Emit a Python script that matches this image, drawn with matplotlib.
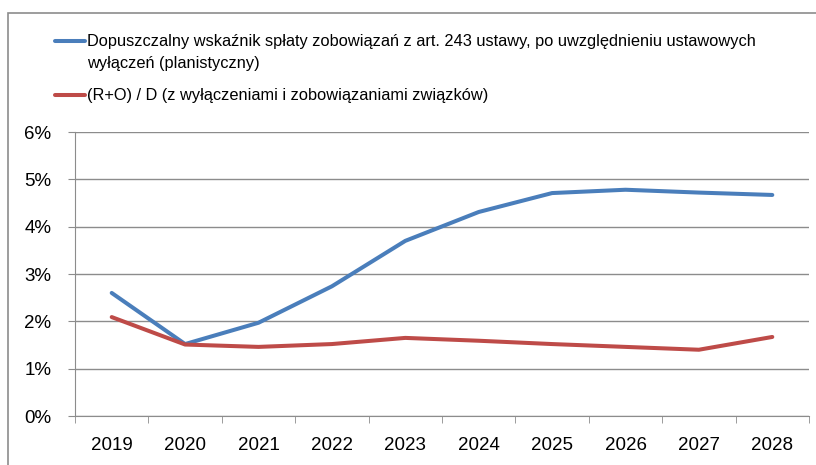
import numpy as np
import matplotlib.pyplot as plt
from matplotlib.lines import Line2D
from matplotlib.patches import Rectangle
from matplotlib.ticker import FixedLocator, FuncFormatter

years = ['2019', '2020', '2021', '2022', '2023', '2024', '2025', '2026', '2027', '2028']
wskaznik_dop = [2.60, 1.52, 1.97, 2.74, 3.70, 4.31, 4.71, 4.78, 4.72, 4.67]
ro_d = [2.09, 1.51, 1.46, 1.52, 1.65, 1.59, 1.52, 1.46, 1.40, 1.67]
label_blue = ('Dopuszczalny wskaźnik spłaty zobowiązań z art. 243 ustawy, po uwzględnieniu ustawowych\n'
              'wyłączeń (planistyczny)')
label_red = '(R+O) / D (z wyłączeniami i zobowiązaniami związków)'

c_blue = '#4A7EBB'
c_red = '#BE4B48'
c_grid = '#8C8C8C'

plt.rcParams['font.family'] = ['Liberation Sans', 'DejaVu Sans']

fig = plt.figure(figsize=(8.16, 4.65), dpi=100)
ax = fig.add_axes([75 / 816, 1 - 416 / 465, 734 / 816, 284 / 465])

x = np.arange(len(years))
ax.plot(x, wskaznik_dop, color=c_blue, lw=2.9, solid_capstyle='round')
ax.plot(x, ro_d, color=c_red, lw=2.9, solid_capstyle='round')

ax.set_xlim(-0.5, len(years) - 0.5)
ax.set_ylim(0, 6)
ax.set_yticks(range(0, 7))
ax.yaxis.set_major_formatter(FuncFormatter(lambda v, p: '{:.0f}%'.format(v)))
ax.grid(axis='y', color=c_grid, lw=1)
ax.set_axisbelow(True)

ax.set_xticks(x)
ax.set_xticklabels(years)
ax.xaxis.set_minor_locator(FixedLocator(np.arange(-0.5, len(years), 1.0)))
ax.tick_params(axis='x', which='major', length=0, pad=15, labelsize=13.5)
ax.tick_params(axis='x', which='minor', length=5, color=c_grid, direction='out')
ax.tick_params(axis='y', length=5, color=c_grid, labelsize=13.5, pad=12)

for s in ['top', 'right']:
    ax.spines[s].set_visible(False)
for s in ['left', 'bottom']:
    ax.spines[s].set_color(c_grid)

# legend above the plot
fig.add_artist(Line2D([55 / 816, 85 / 816], [1 - 41 / 465] * 2, color=c_blue, lw=2.9,
                      solid_capstyle='round'))
fig.add_artist(Line2D([55 / 816, 85 / 816], [1 - 95 / 465] * 2, color=c_red, lw=2.9,
                      solid_capstyle='round'))
fig.text(87 / 816, 1 - 34 / 465, label_blue, fontsize=11.8, va='top', ha='left', linespacing=1.55)
fig.text(87 / 816, 1 - 95 / 465, label_red, fontsize=11.8, va='center', ha='left')

# outer chart frame
fig.add_artist(Rectangle((8 / 816, -0.1), 1.1, 1 - 13 / 465 + 0.1, transform=fig.transFigure,
                         fill=False, edgecolor=c_grid, lw=1.2))

fig.savefig('out.png', dpi=100)
